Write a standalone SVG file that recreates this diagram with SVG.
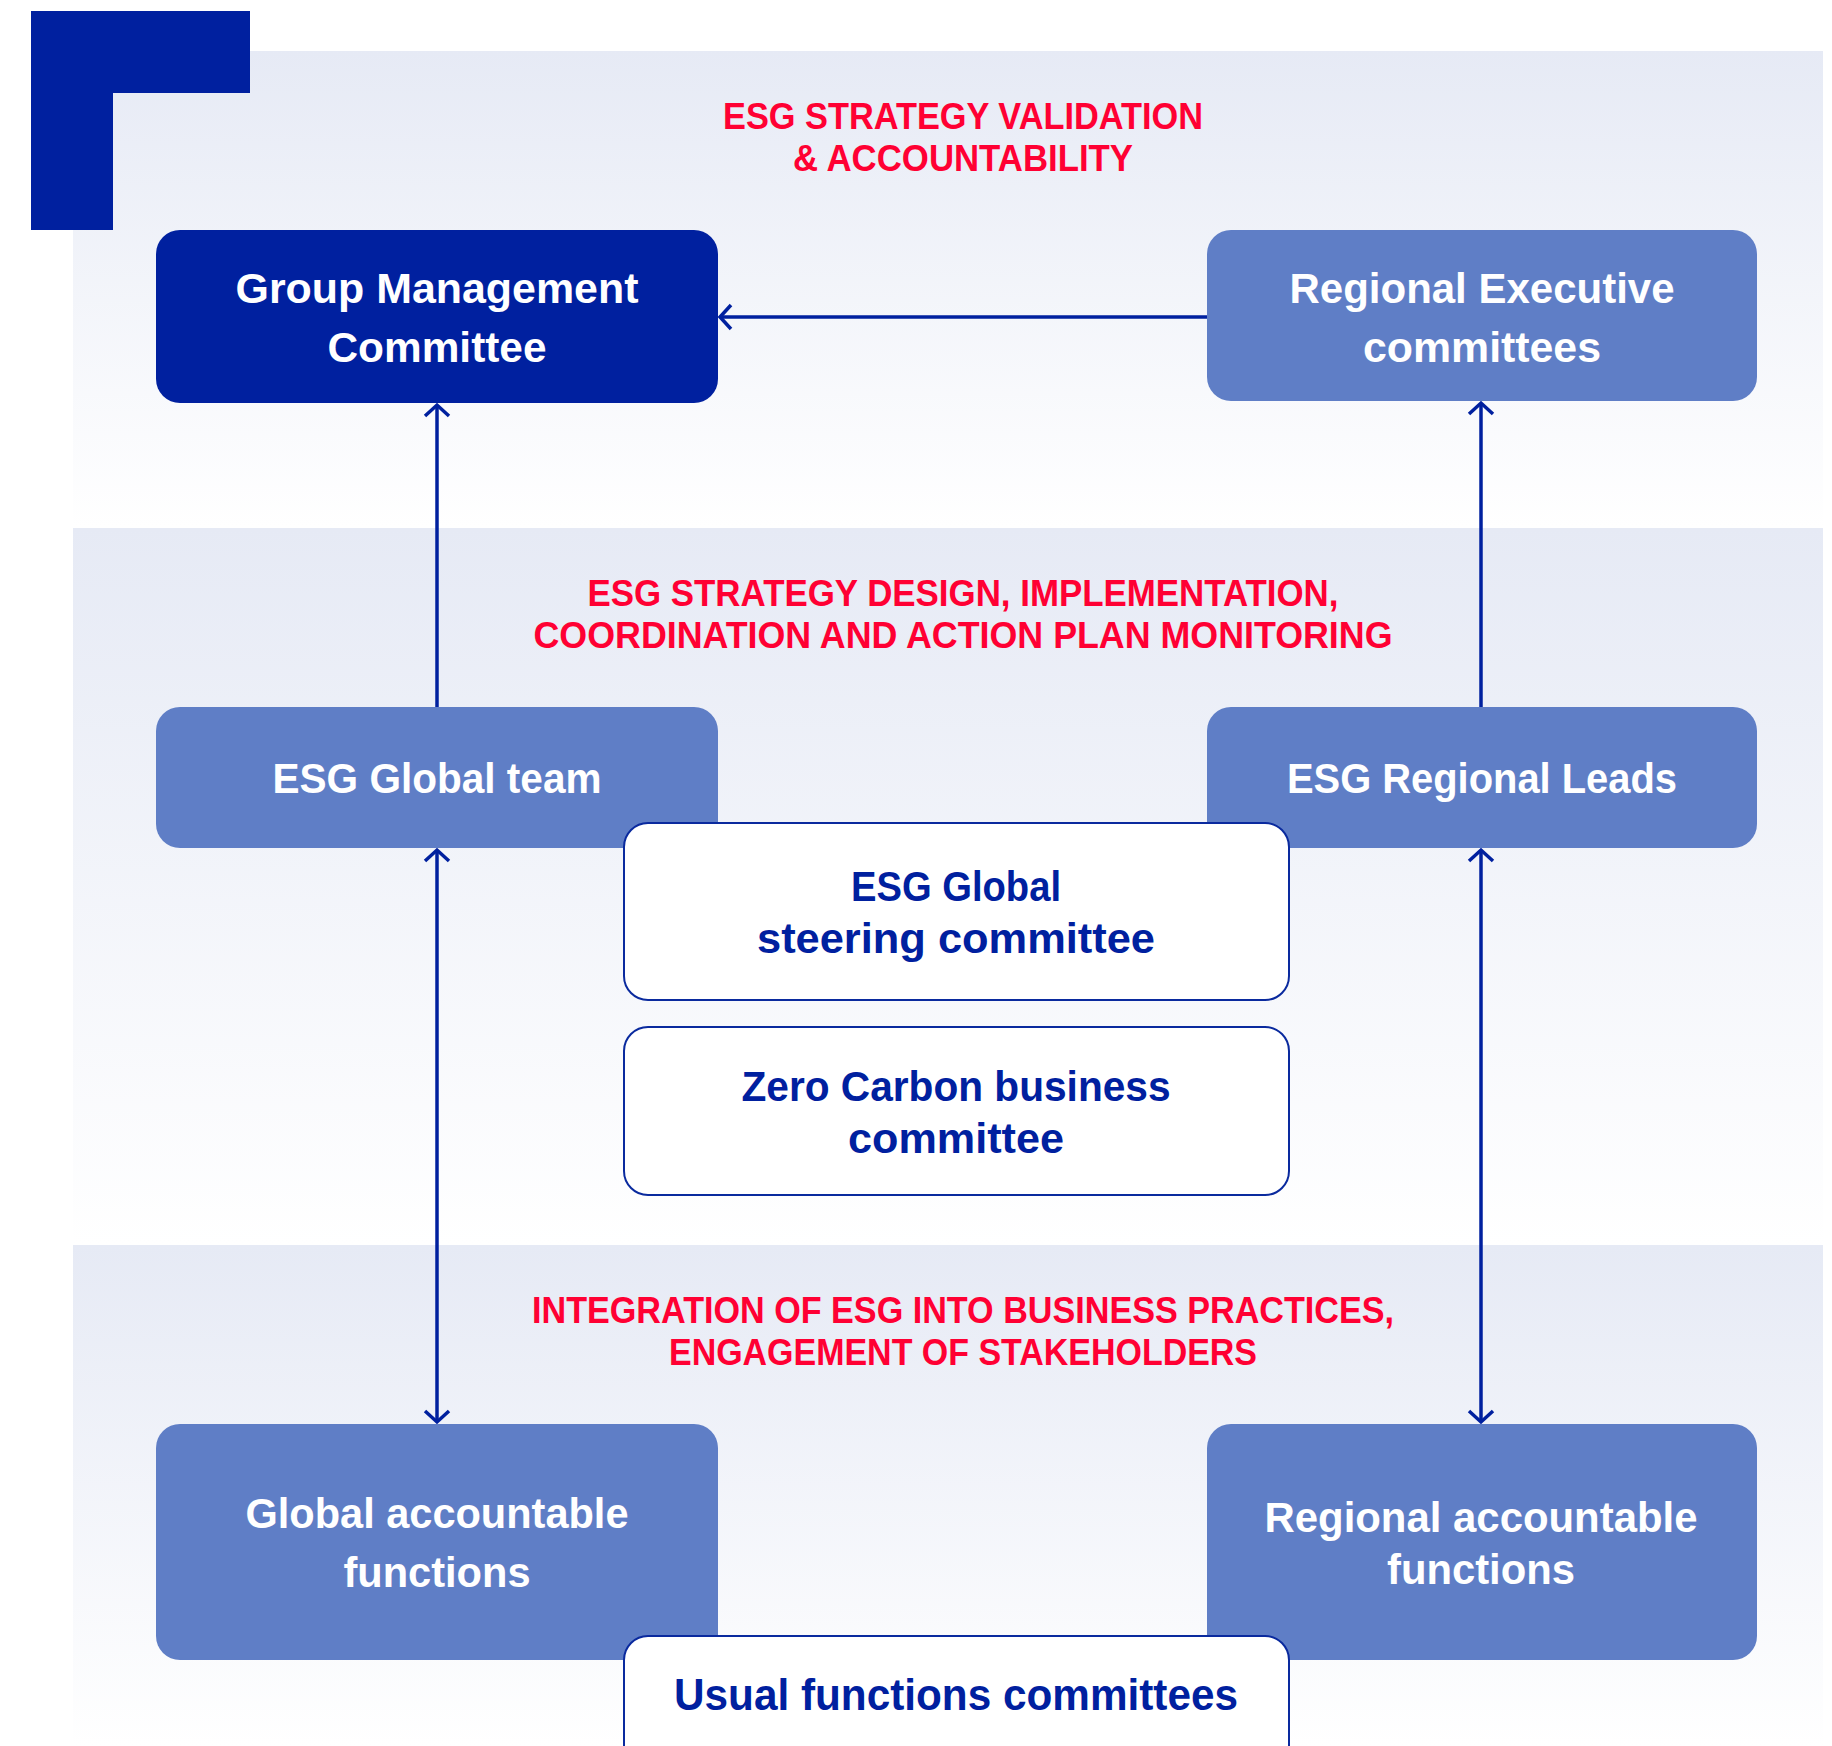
<svg xmlns="http://www.w3.org/2000/svg" width="1832" height="1746" viewBox="0 0 1832 1746">
<defs>
<linearGradient id="band" x1="0" y1="0" x2="0" y2="1">
<stop offset="0" stop-color="#e6eaf5"/>
<stop offset="1" stop-color="#ffffff"/>
</linearGradient>
<marker id="arr" markerUnits="userSpaceOnUse" markerWidth="30" markerHeight="30" viewBox="-15 -15 30 30" refX="0" refY="0" orient="auto-start-reverse">
<path d="M -11 -12 L 0 0 L -11 12" fill="none" stroke="#00209f" stroke-width="3.5"/>
</marker>
<style>
.t{font-family:"Liberation Sans Narrow","Liberation Sans",Arial,sans-serif;font-weight:bold;font-size:43px;text-anchor:middle}
.title{fill:#ff0033;font-size:37px}
.w{fill:#ffffff}
.d{fill:#00209f}
.big{font-size:45px}
.dark{fill:#00209f}
.mid{fill:#5f7ec6}
.wb{fill:#ffffff;stroke:#0a2a9e;stroke-width:2}
.conn{fill:none;stroke:#00209f;stroke-width:3.5}
</style>
</defs>
<rect width="1832" height="1746" fill="#ffffff"/>
<g id="bands">
<rect x="73" y="51" width="1750" height="477" fill="url(#band)"/>
<rect x="73" y="528" width="1750" height="717" fill="url(#band)"/>
<rect x="73" y="1245" width="1750" height="501" fill="url(#band)"/>
</g>
<path id="corner" d="M31 11 H250 V93 H113 V230 H31 Z" fill="#00209f"/>
<g id="titles">
<text class="t title" x="963" y="129" textLength="480" lengthAdjust="spacingAndGlyphs">ESG STRATEGY VALIDATION</text>
<text class="t title" x="963" y="171" textLength="340" lengthAdjust="spacingAndGlyphs">&amp; ACCOUNTABILITY</text>
<text class="t title" x="963" y="606" textLength="751" lengthAdjust="spacingAndGlyphs">ESG STRATEGY DESIGN, IMPLEMENTATION,</text>
<text class="t title" x="963" y="648" textLength="859" lengthAdjust="spacingAndGlyphs">COORDINATION AND ACTION PLAN MONITORING</text>
<text class="t title" x="963" y="1323" textLength="862" lengthAdjust="spacingAndGlyphs">INTEGRATION OF ESG INTO BUSINESS PRACTICES,</text>
<text class="t title" x="963" y="1365" textLength="588" lengthAdjust="spacingAndGlyphs">ENGAGEMENT OF STAKEHOLDERS</text>
</g>
<g id="connectors">
<line class="conn" x1="1207" y1="317" x2="720" y2="317" marker-end="url(#arr)"/>
<line class="conn" x1="437" y1="707" x2="437" y2="405" marker-end="url(#arr)"/>
<line class="conn" x1="1481" y1="707" x2="1481" y2="403" marker-end="url(#arr)"/>
<line class="conn" x1="437" y1="850" x2="437" y2="1422" marker-start="url(#arr)" marker-end="url(#arr)"/>
<line class="conn" x1="1481" y1="850" x2="1481" y2="1422" marker-start="url(#arr)" marker-end="url(#arr)"/>
</g>
<g id="gmc">
<rect class="dark" x="156" y="230" width="562" height="173" rx="24"/>
<text class="t w" x="437" y="303" textLength="403" lengthAdjust="spacingAndGlyphs">Group Management</text>
<text class="t w" x="437" y="362" textLength="219" lengthAdjust="spacingAndGlyphs">Committee</text>
</g>
<g id="regional-exec">
<rect class="mid" x="1207" y="230" width="550" height="171" rx="24"/>
<text class="t w" x="1482" y="303" textLength="385" lengthAdjust="spacingAndGlyphs">Regional Executive</text>
<text class="t w" x="1482" y="362" textLength="238" lengthAdjust="spacingAndGlyphs">committees</text>
</g>
<g id="esg-global-team">
<rect class="mid" x="156" y="707" width="562" height="141" rx="24"/>
<text class="t w" x="437" y="793" textLength="329" lengthAdjust="spacingAndGlyphs">ESG Global team</text>
</g>
<g id="esg-regional-leads">
<rect class="mid" x="1207" y="707" width="550" height="141" rx="24"/>
<text class="t w" x="1482" y="793" textLength="390" lengthAdjust="spacingAndGlyphs">ESG Regional Leads</text>
</g>
<g id="global-accountable">
<rect class="mid" x="156" y="1424" width="562" height="236" rx="24"/>
<text class="t w" x="437" y="1528" textLength="383" lengthAdjust="spacingAndGlyphs">Global accountable</text>
<text class="t w" x="437" y="1587" textLength="187" lengthAdjust="spacingAndGlyphs">functions</text>
</g>
<g id="regional-accountable">
<rect class="mid" x="1207" y="1424" width="550" height="236" rx="24"/>
<text class="t w" x="1481" y="1532" textLength="433" lengthAdjust="spacingAndGlyphs">Regional accountable</text>
<text class="t w" x="1481" y="1584" textLength="188" lengthAdjust="spacingAndGlyphs">functions</text>
</g>
<g id="esg-steering">
<rect class="wb" x="624" y="823" width="665" height="177" rx="24"/>
<text class="t d" x="956" y="901" textLength="210" lengthAdjust="spacingAndGlyphs">ESG Global</text>
<text class="t d" x="956" y="953" textLength="398" lengthAdjust="spacingAndGlyphs">steering committee</text>
</g>
<g id="zero-carbon">
<rect class="wb" x="624" y="1027" width="665" height="168" rx="24"/>
<text class="t d" x="956" y="1101" textLength="429" lengthAdjust="spacingAndGlyphs">Zero Carbon business</text>
<text class="t d" x="956" y="1153" textLength="216" lengthAdjust="spacingAndGlyphs">committee</text>
</g>
<g id="usual-functions">
<rect class="wb" x="624" y="1636" width="665" height="140" rx="24"/>
<text class="t d big" x="956" y="1710" textLength="564" lengthAdjust="spacingAndGlyphs">Usual functions committees</text>
</g>
</svg>
